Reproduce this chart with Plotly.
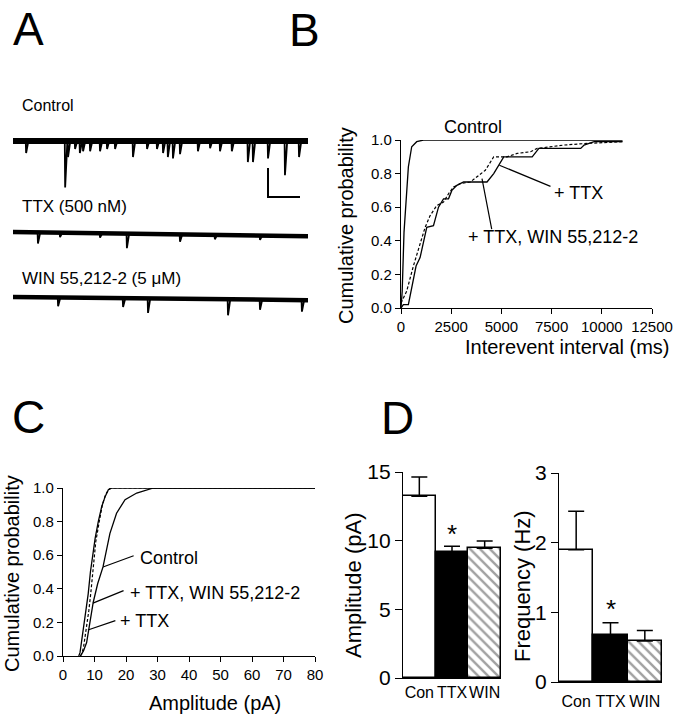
import plotly.graph_objects as go

W, H = 678, 720
FONT = "Liberation Sans, Arial, Helvetica, sans-serif"

# ---------------- DATA ----------------
# Panel A: example recordings (event times in s, event amplitudes in pA)
trace_duration_s = 9.22
ctrl_event_t = [0.41, 1.63, 1.72, 1.94, 2.09, 2.19, 2.41, 2.72, 2.94, 3.19, 3.75, 4.19, 4.50,
                4.69, 4.84, 5.00, 5.22, 5.78, 6.16, 6.47, 6.84, 7.34, 7.50, 7.97, 8.50, 8.94]
ctrl_event_amp = [8.3, 32.0, 11.0, 5.5, 8.3, 7.0, 7.0, 7.0, 5.5, 5.5, 11.0, 5.5, 5.5,
                  8.3, 11.0, 12.0, 9.0, 7.0, 5.0, 7.0, 7.0, 14.5, 14.5, 12.0, 23.5, 11.0]
ttx_event_t = [0.78, 1.47, 2.72, 3.56, 5.22, 6.31, 7.72]
ttx_event_amp = [7.6, 3.0, 3.0, 10.0, 5.0, 3.0, 3.0]
ttx_drift_pA = -2.8
win_event_t = [1.41, 3.44, 4.22, 6.72, 7.72, 9.03]
win_event_amp = [6.0, 6.0, 10.0, 11.0, 7.0, 8.0]
win_drift_pA = -2.1
scale_bar_time_s = 1.0
scale_bar_current_pA = 20.0

# Panel B: cumulative interevent interval (ms)
ctrl_iei_x = [0, 60, 150, 367, 533, 783, 1117, 11033]
ctrl_iei_y = [0, 0.10, 0.45, 0.84, 0.96, 0.99, 1.0, 1.0]
ttx_iei_x = [0, 117, 367, 750, 950, 1167, 1283, 1617, 1867, 2117, 2367, 2533, 2783, 3117,
             4283, 4617, 5117, 6533, 6867, 8950, 9117, 9617, 11033]
ttx_iei_y = [0, 0.02, 0.02, 0.25, 0.30, 0.42, 0.48, 0.49, 0.60, 0.65, 0.65, 0.70, 0.73, 0.75,
             0.75, 0.80, 0.90, 0.90, 0.95, 0.95, 0.97, 0.99, 0.99]
win_iei_x = [0, 283, 617, 950, 1200, 1450, 1783, 2117, 2367, 2617, 2950, 3450, 3950, 4200,
             4617, 5283, 5783, 6450, 6783, 8117, 9283, 11033]
win_iei_y = [0.03, 0.10, 0.25, 0.38, 0.48, 0.55, 0.61, 0.63, 0.68, 0.72, 0.74, 0.75, 0.80, 0.82,
             0.90, 0.90, 0.92, 0.93, 0.95, 0.97, 0.98, 0.99]

# Panel C: cumulative amplitude (pA)
ctrl_amp_x = [5.5, 6.5, 7.5, 8.3, 9.6, 11.0, 12.7, 14.9, 17.0, 19.7, 23.4, 28.7, 80]
ctrl_amp_y = [0, 0.03, 0.08, 0.165, 0.32, 0.43, 0.53, 0.73, 0.85, 0.93, 0.97, 1.0, 1.0]
ttx_amp_x = [5.0, 5.4, 6.0, 6.5, 7.3, 8.0, 8.7, 9.6, 10.2, 11.2, 12.3, 13.4, 14.4, 15.2, 80]
ttx_amp_y = [0, 0.02, 0.10, 0.17, 0.27, 0.37, 0.50, 0.62, 0.70, 0.80, 0.89, 0.95, 0.99, 1.0, 1.0]
win_amp_x = [5.5, 5.9, 6.5, 7.5, 8.2, 8.8, 9.6, 10.4, 11.5, 12.5, 13.5, 14.5, 15.5, 80]
win_amp_y = [0, 0.01, 0.05, 0.17, 0.27, 0.37, 0.52, 0.68, 0.80, 0.90, 0.96, 0.99, 1.0, 1.0]

# Panel D: means and SEM
groups = ["Con", "TTX", "WIN"]
amp_mean = [13.23, 9.19, 9.44]
amp_sem = [1.41, 0.41, 0.53]
freq_mean = [1.90, 0.67, 0.59]
freq_sem = [0.55, 0.18, 0.15]

# ---------------- LAYOUT HELPERS ----------------
def xdom(l, r):
    return [l / W, r / W]

def ydom(t, b):
    return [1 - b / H, 1 - t / H]

def px(x):
    return x / W

def py(y):
    return 1 - y / H

TRACE_OFFSET = {"ctrl": 0.0, "ttx": -62.8, "win": -107.6}
RISE, DECAY = 0.012, 0.07

def spikes(ev_t, ev_a, off, drift):
    xs, ys = [], []
    for t, a in zip(ev_t, ev_a):
        b = off + drift * t / trace_duration_s
        xs += [t - RISE, t, t + DECAY, None]
        ys += [b, b - a, b, None]
    return xs, ys

fig = go.Figure()

# ---- Panel A ----
for key, ev_t, ev_a, drift, bw in [("ctrl", ctrl_event_t, ctrl_event_amp, 0.0, 6),
                                   ("ttx", ttx_event_t, ttx_event_amp, ttx_drift_pA, 4.5),
                                   ("win", win_event_t, win_event_amp, win_drift_pA, 4.5)]:
    off = TRACE_OFFSET[key]
    fig.add_trace(go.Scatter(x=[0, trace_duration_s], y=[off, off + drift], mode="lines",
                             line=dict(color="black", width=bw), xaxis="x", yaxis="y",
                             showlegend=False, hoverinfo="skip"))
    sx, sy = spikes(ev_t, ev_a, off, drift)
    fig.add_trace(go.Scatter(x=sx, y=sy, mode="lines", line=dict(color="black", width=1.8),
                             xaxis="x", yaxis="y", showlegend=False, hoverinfo="skip"))

sb_x0, sb_y0 = 7.97, -38.6
fig.add_trace(go.Scatter(x=[sb_x0, sb_x0, sb_x0 + scale_bar_time_s],
                         y=[sb_y0 + scale_bar_current_pA, sb_y0, sb_y0],
                         mode="lines", line=dict(color="black", width=2),
                         xaxis="x", yaxis="y", showlegend=False, hoverinfo="skip"))

# ---- Panel B ----
fig.add_trace(go.Scatter(x=ctrl_iei_x, y=ctrl_iei_y, mode="lines", line=dict(color="black", width=1.3),
                         xaxis="x2", yaxis="y2", showlegend=False))
fig.add_trace(go.Scatter(x=ttx_iei_x, y=ttx_iei_y, mode="lines", line=dict(color="black", width=1.3),
                         xaxis="x2", yaxis="y2", showlegend=False))
fig.add_trace(go.Scatter(x=win_iei_x, y=win_iei_y, mode="lines",
                         line=dict(color="black", width=1.2, dash="3px,2px"),
                         xaxis="x2", yaxis="y2", showlegend=False))

# ---- Panel C ----
fig.add_trace(go.Scatter(x=ctrl_amp_x, y=ctrl_amp_y, mode="lines", line=dict(color="black", width=1.3),
                         xaxis="x3", yaxis="y3", showlegend=False))
fig.add_trace(go.Scatter(x=ttx_amp_x, y=ttx_amp_y, mode="lines", line=dict(color="black", width=1.3),
                         xaxis="x3", yaxis="y3", showlegend=False))
fig.add_trace(go.Scatter(x=win_amp_x, y=win_amp_y, mode="lines",
                         line=dict(color="black", width=1.2, dash="3px,2px"),
                         xaxis="x3", yaxis="y3", showlegend=False))

# ---- Panel D ----
bar_marker = dict(color=["white", "black", "white"],
                  pattern=dict(shape=["", "", "\\"], fgcolor="black", bgcolor="white",
                               size=7, solidity=0.35),
                  line=dict(color="black", width=1.5))
for xa, ya, mean, sem in [("x4", "y4", amp_mean, amp_sem), ("x5", "y5", freq_mean, freq_sem)]:
    fig.add_trace(go.Bar(x=groups, y=mean, marker=bar_marker, xaxis=xa, yaxis=ya, showlegend=False,
                         error_y=dict(type="data", symmetric=False, array=sem,
                                      arrayminus=[0, 0, 0], color="black", thickness=1.5, width=8)))

axis_common = dict(showline=True, linecolor="black", linewidth=1.2, ticks="outside",
                   tickcolor="black", tickwidth=1.2, showgrid=False, zeroline=False,
                   automargin=False)
cat_axis = dict(showline=True, linecolor="black", linewidth=1.2, ticks="", showgrid=False,
                zeroline=False, tickangle=0, automargin=False, range=[-0.5, 2.5],
                tickfont=dict(size=16))

fig.update_layout(
    width=W, height=H, margin=dict(l=0, r=0, t=0, b=0, pad=0, autoexpand=False),
    paper_bgcolor="white", plot_bgcolor="white",
    font=dict(family=FONT, color="black"),
    bargap=0,
    xaxis=dict(domain=xdom(13, 308), range=[0, trace_duration_s], visible=False, fixedrange=True,
               automargin=False),
    yaxis=dict(domain=ydom(90, 320), range=[-123.4, 35.2], visible=False, fixedrange=True,
               automargin=False),
    xaxis2=dict(domain=xdom(401, 652), range=[0, 12500], tickvals=[0, 2500, 5000, 7500, 10000, 12500],
                tickformat="d", ticklen=5, tickfont=dict(size=15), anchor="y2", **axis_common),
    yaxis2=dict(domain=ydom(140, 308), range=[0, 1.0], tickvals=[0, 0.2, 0.4, 0.6, 0.8, 1.0],
                tickformat=".1f", ticklen=5, tickfont=dict(size=15), anchor="x2", **axis_common),
    xaxis3=dict(domain=xdom(63, 315), range=[0, 80], tickvals=list(range(0, 81, 10)),
                ticklen=5, tickfont=dict(size=15), anchor="y3", **axis_common),
    yaxis3=dict(domain=ydom(488, 656), range=[0, 1.0], tickvals=[0, 0.2, 0.4, 0.6, 0.8, 1.0],
                tickformat=".1f", ticklen=5, tickfont=dict(size=15), anchor="x3", **axis_common),
    xaxis4=dict(domain=xdom(403, 501), anchor="y4", **cat_axis),
    yaxis4=dict(domain=ydom(472, 678), range=[0, 15], tickvals=[0, 5, 10, 15], ticklen=7,
                tickfont=dict(size=21), anchor="x4", **axis_common),
    xaxis5=dict(domain=xdom(559, 662), anchor="y5", ticklabelstandoff=5, **cat_axis),
    yaxis5=dict(domain=ydom(473, 682), range=[0, 3], tickvals=[0, 1, 2, 3], ticklen=7,
                tickfont=dict(size=21), anchor="x5", **axis_common),
)

ann = []
def text(x, y, s, size, xanchor="center", angle=0, yanchor="middle"):
    ann.append(dict(x=px(x), y=py(y), xref="paper", yref="paper", text=s, showarrow=False,
                    xanchor=xanchor, yanchor=yanchor, textangle=angle,
                    font=dict(size=size, family=FONT, color="black")))

# panel letters
text(28, 1, "A", 46, yanchor="top")
text(304, 2, "B", 46, yanchor="top")
text(28, 389, "C", 46, yanchor="top")
text(398, 390, "D", 46, yanchor="top")
# panel A labels
text(20, 105, "Control", 16, "left")
text(20, 206, "TTX (500 nM)", 17, "left")
text(20, 279, "WIN 55,212-2 (5 μM)", 17, "left")
# panel B
text(346, 226, "Cumulative probability", 20, angle=-90)
text(567, 347, "Interevent interval (ms)", 20)
text(473, 127, "Control", 18)
text(578, 193, "+ TTX", 18)
text(553, 237, "+ TTX, WIN 55,212-2", 18)
# panel C
text(12, 574, "Cumulative probability", 20, angle=-90)
text(215, 703, "Amplitude (pA)", 20)
text(138, 558, "Control", 18, "left")
text(128, 593, "+ TTX, WIN 55,212-2", 18, "left")
text(118, 621, "+ TTX", 18, "left")
# panel D
text(353, 585, "Amplitude (pA)", 22, angle=-90)
text(522, 586, "Frequency (Hz)", 22, angle=-90)
ann.append(dict(x="TTX", y=10.5, xref="x4", yref="y4", text="*", showarrow=False,
                font=dict(size=26, family=FONT, color="black"), yanchor="middle"))
ann.append(dict(x="TTX", y=1.05, xref="x5", yref="y5", text="*", showarrow=False,
                font=dict(size=26, family=FONT, color="black"), yanchor="middle"))

# pointer lines (data coordinates)
def pointer(xref, yref, x0, y0, x1, y1):
    ann.append(dict(x=x1, y=y1, ax=x0, ay=y0, xref=xref, yref=yref, axref=xref, ayref=yref,
                    text="", showarrow=True, arrowhead=0, arrowwidth=1.2, arrowcolor="black"))

pointer("x2", "y2", 7520, 0.72, 4900, 0.85)
pointer("x2", "y2", 4532, 0.46, 4034, 0.77)
pointer("x3", "y3", 22.9, 0.60, 12.7, 0.53)
pointer("x3", "y3", 19.7, 0.393, 9.5, 0.315)
pointer("x3", "y3", 17.1, 0.214, 7.9, 0.155)

fig.update_layout(annotations=ann)
fig.write_html("out.html", config={"displayModeBar": False},
               post_script="document.body.style.margin='0';document.body.style.overflow='hidden';")
